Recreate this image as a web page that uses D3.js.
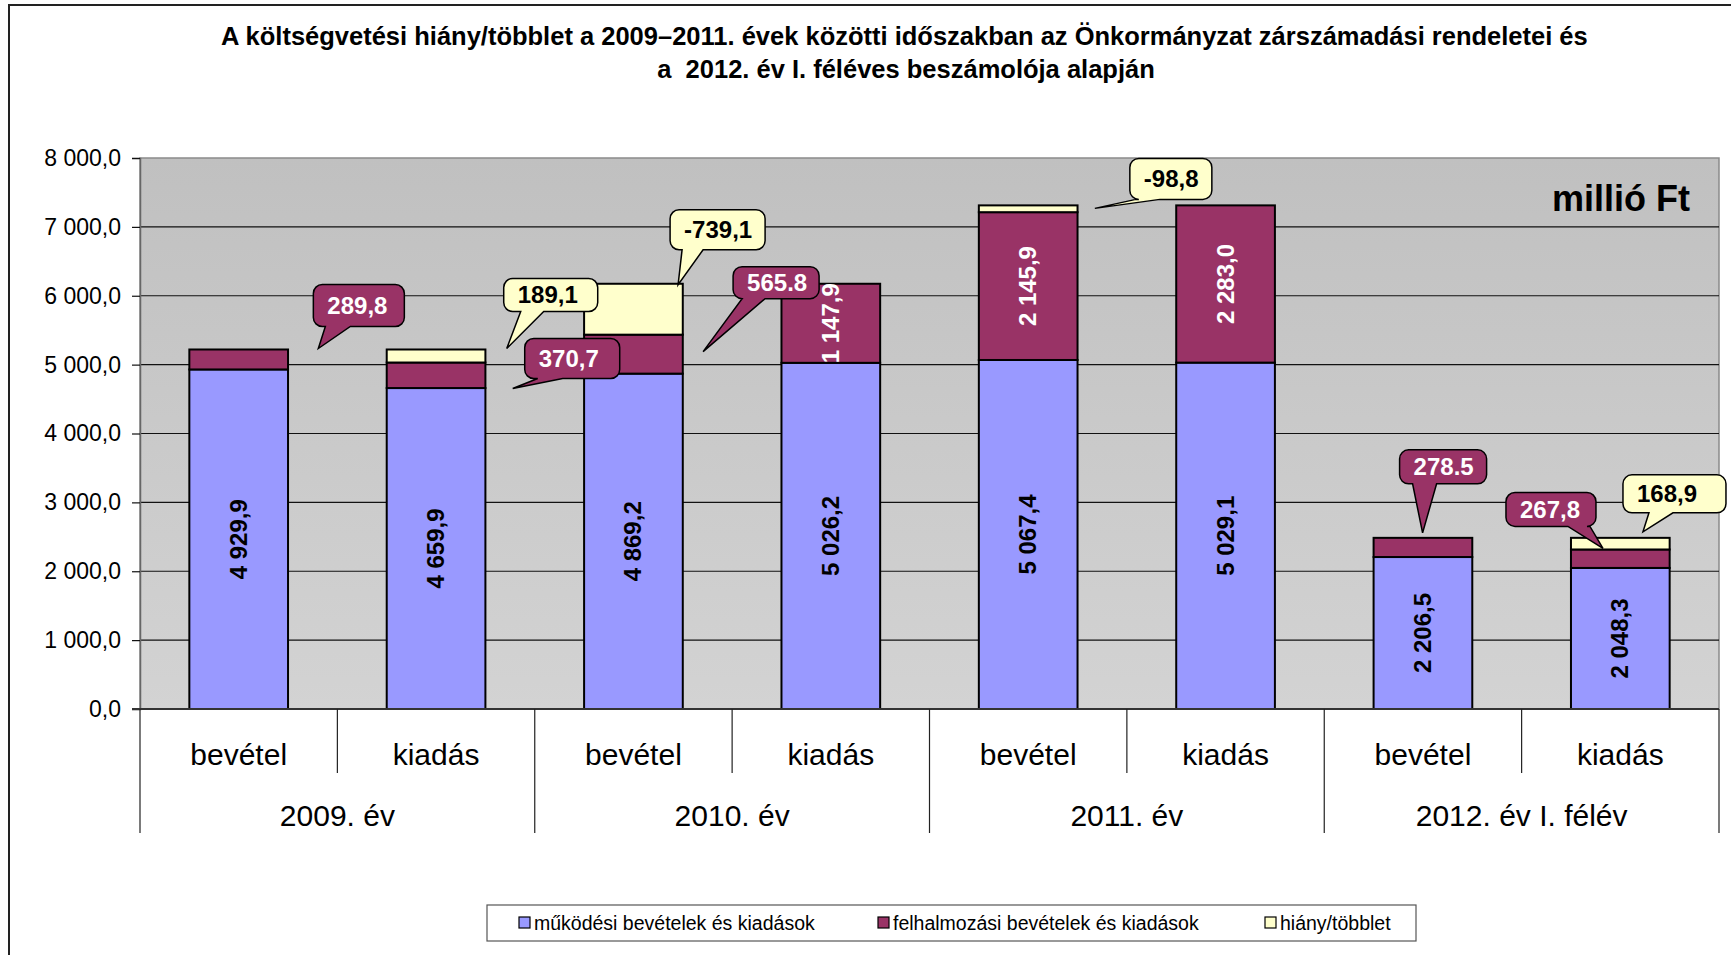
<!DOCTYPE html>
<html>
<head>
<meta charset="utf-8">
<script src="https://cdn.jsdelivr.net/npm/d3@7"></script>
<style>
  html, body { margin: 0; padding: 0; background: #fff; }
  svg { display: block; font-family: "Liberation Sans", Arial, sans-serif; }
</style>
</head>
<body>
<svg id="chart" width="1731" height="955"></svg>
<script>
"use strict";

// data (millió Ft)
var subCats = ['bevétel','kiadás','bevétel','kiadás','bevétel','kiadás','bevétel','kiadás'];
var years = ['2009. év','2010. év','2011. év','2012. év I. félév'];
var mukodesi = [4929.9, 4659.9, 4869.2, 5026.2, 5067.4, 5029.1, 2206.5, 2048.3];
var felhalmozasi = [289.8, 370.7, 565.8, 1147.9, 2145.9, 2283.0, 278.5, 267.8];
var hiany = [0, 189.1, 739.1, 0, 98.8, 0, 0, 168.9];
var yTicks = [0, 1000, 2000, 3000, 4000, 5000, 6000, 7000, 8000];
var seriesNames = ['működési bevételek és kiadások','felhalmozási bevételek és kiadások','hiány/többlet'];
// which maroon segments carry their value inside the bar
var felhInside = [false, false, false, true, true, true, false, false];
// callout bubbles: bar index, series, text as printed
var calloutBar = [0, 1, 1, 2, 2, 4, 6, 7, 7];
var calloutSeries = ['felh','hiany','felh','hiany','felh','hiany','felh','felh','hiany'];
var calloutText = ['289,8','189,1','370,7','-739,1','565.8','-98,8','278.5','267,8','168,9'];

var title1 = 'A költségvetési hiány/többlet a 2009–2011. évek közötti időszakban az Önkormányzat zárszámadási rendeletei és';
var title2 = 'a  2012. év I. féléves beszámolója alapján';

var colors = { muk: '#9999ff', felh: '#993366', hiany: '#ffffcc' };

// callout placement: tip x from bar left, tip y offset from segment top,
// box offset from the tip, box size, tail base along the bottom edge
var calloutLayout = [
  { tx: 129, ty: -1, bx: -5,  by: -64, w: 91,  h: 42, b1: 12, b2: 37 },
  { tx: 120, ty: -1, bx: -3,  by: -70, w: 94,  h: 33, b1: 17, b2: 40 },
  { tx: 126, ty: 26, bx: 12,  by: -50, w: 95,  h: 40, b1: 13, b2: 38 },
  { tx: 94,  ty: 1,  bx: -8,  by: -75, w: 95,  h: 40, b1: 12, b2: 33 },
  { tx: 119, ty: 17, bx: 30,  by: -85, w: 86,  h: 32, b1: 9,  b2: 32 },
  { tx: 116, ty: 3,  bx: 35,  by: -50, w: 82,  h: 41, b1: 6,  b2: 30 },
  { tx: 49,  ty: -5, bx: -23, by: -83, w: 87,  h: 34, b1: 13, b2: 37 },
  { tx: 32,  ty: -1, bx: -97, by: -56, w: 90,  h: 34, b1: 62, b2: 84 },
  { tx: 72,  ty: -6, bx: -20, by: -57, w: 103, h: 38, b1: 26, b2: 50 }
];

var svg = d3.select('#chart');

var plot = { left: 140, right: 1719, top: 158, bottom: 709 };

var fmtLocale = d3.formatLocale({ decimal: ',', thousands: '\u00a0', grouping: [3], currency: ['', ''] });
var fmt = fmtLocale.format(',.1f');

var rows = mukodesi.map(function(d, i){
  return { i: i, muk: d, felh: felhalmozasi[i], hiany: hiany[i] };
});

var x = d3.scaleBand()
  .domain(d3.range(subCats.length))
  .range([plot.left, plot.right])
  .paddingInner(0.5)
  .paddingOuter(0.25);

var y = d3.scaleLinear()
  .domain([0, 8000])
  .range([plot.bottom, plot.top]);

var stack = d3.stack().keys(['muk','felh','hiany']);
var stacked = stack(rows);

// outer frame
svg.append('path')
  .attr('d', 'M9,960 V5 H1740')
  .attr('fill', 'none')
  .attr('stroke', '#222')
  .attr('stroke-width', 2);

// title, first line is cut off on the right like in the original
var defs = svg.append('defs');
defs.append('clipPath').attr('id', 'titleClip')
  .append('rect').attr('x', 0).attr('y', 0).attr('width', 1587).attr('height', 100);

var grad = defs.append('linearGradient')
  .attr('id', 'plotGrad')
  .attr('x1', 0).attr('y1', 0).attr('x2', 0).attr('y2', 1);
grad.append('stop').attr('offset', '0%').attr('stop-color', '#c0c0c0');
grad.append('stop').attr('offset', '100%').attr('stop-color', '#d3d3d3');

svg.append('text')
  .attr('clip-path', 'url(#titleClip)')
  .attr('x', 221).attr('y', 45)
  .attr('text-anchor', 'start')
  .style('font-size', '25.5px').style('font-weight', 'bold')
  .text(title1);

svg.append('text')
  .attr('x', 906).attr('y', 78)
  .attr('text-anchor', 'middle')
  .style('font-size', '25.5px').style('font-weight', 'bold')
  .style('white-space', 'pre')
  .attr('xml:space', 'preserve')
  .text(title2);

// plot background
svg.append('rect')
  .attr('x', plot.left).attr('y', plot.top)
  .attr('width', plot.right - plot.left)
  .attr('height', plot.bottom - plot.top)
  .attr('fill', 'url(#plotGrad)')
  .attr('stroke', '#8a8a8a')
  .attr('stroke-width', 1.5);

// grid
svg.append('g').selectAll('line')
  .data(yTicks.filter(function(t){ return t > 0 && t < 8000; }))
  .enter().append('line')
    .attr('x1', plot.left).attr('x2', plot.right)
    .attr('y1', function(d){ return y(d); })
    .attr('y2', function(d){ return y(d); })
    .attr('stroke', '#111')
    .attr('stroke-width', 1.2);

// y axis
var yAxis = d3.axisLeft(y)
  .tickValues(yTicks)
  .tickSize(8)
  .tickPadding(11)
  .tickFormat(fmt);

var yg = svg.append('g')
  .attr('transform', 'translate(' + plot.left + ',0)')
  .call(yAxis);
yg.select('.domain').attr('stroke', '#666').attr('stroke-width', 1.5);
yg.selectAll('.tick line').attr('stroke', '#111').attr('stroke-width', 1.2);
yg.selectAll('.tick text')
  .style('font-size', '23px')
  .style('font-family', '"Liberation Sans", Arial, sans-serif')
  .attr('fill', '#000');

// "millió Ft"
svg.append('text')
  .attr('x', 1690).attr('y', 211)
  .attr('text-anchor', 'end')
  .style('font-size', '36px').style('font-weight', 'bold')
  .text('millió Ft');

// bars
var fills = [colors.muk, colors.felh, colors.hiany];
var layers = svg.append('g').selectAll('g.layer')
  .data(stacked)
  .enter().append('g')
    .attr('class', 'layer')
    .attr('fill', function(d, i){ return fills[i]; });

layers.selectAll('rect')
  .data(function(d){ return d.filter(function(s){ return s[1] - s[0] > 0; }); })
  .enter().append('rect')
    .attr('x', function(d){ return x(d.data.i); })
    .attr('width', x.bandwidth())
    .attr('y', function(d){ return y(d[1]); })
    .attr('height', function(d){ return y(d[0]) - y(d[1]); })
    .attr('stroke', '#000')
    .attr('stroke-width', 2);

// x axis line at zero
svg.append('line')
  .attr('x1', plot.left - 8).attr('x2', plot.right)
  .attr('y1', y(0)).attr('y2', y(0))
  .attr('stroke', '#333').attr('stroke-width', 2);

// labels inside the bars
var inside = svg.append('g');
stacked[0].forEach(function(s){
  var cx = x(s.data.i) + x.bandwidth() / 2;
  var cy = (y(s[0]) + y(s[1])) / 2;
  inside.append('text')
    .attr('transform', 'translate(' + (cx + 8) + ',' + cy + ') rotate(-90)')
    .attr('text-anchor', 'middle')
    .style('font-size', '24px').style('font-weight', 'bold')
    .attr('fill', '#000')
    .text(fmt(s.data.muk));
});
stacked[1].forEach(function(s){
  if (!felhInside[s.data.i]) return;
  var cx = x(s.data.i) + x.bandwidth() / 2;
  var cy = (y(s[0]) + y(s[1])) / 2;
  inside.append('text')
    .attr('transform', 'translate(' + (cx + 8) + ',' + cy + ') rotate(-90)')
    .attr('text-anchor', 'middle')
    .style('font-size', '24px').style('font-weight', 'bold')
    .attr('fill', '#fff')
    .text(fmt(s.data.felh));
});

// category axis: separators and labels
var step = x.step();
var x0 = x.range()[0];
svg.append('g').selectAll('line')
  .data(d3.range(subCats.length + 1))
  .enter().append('line')
    .attr('x1', function(d){ return x0 + d * step; })
    .attr('x2', function(d){ return x0 + d * step; })
    .attr('y1', y(0))
    .attr('y2', function(d){ return d % 2 === 0 ? 833 : 773; })
    .attr('stroke', '#222')
    .attr('stroke-width', 1.2);

svg.append('g').selectAll('text')
  .data(subCats)
  .enter().append('text')
    .attr('x', function(d, i){ return x(i) + x.bandwidth() / 2; })
    .attr('y', 765)
    .attr('text-anchor', 'middle')
    .style('font-size', '30px')
    .text(function(d){ return d; });

svg.append('g').selectAll('text')
  .data(years)
  .enter().append('text')
    .attr('x', function(d, i){ return x0 + (2 * i + 1) * step; })
    .attr('y', 826)
    .attr('text-anchor', 'middle')
    .style('font-size', '30px')
    .text(function(d){ return d; });

// callouts
function bubblePath(bx, by, w, h, r, b1, b2, tx, ty){
  return 'M' + (bx + r) + ',' + by +
    'H' + (bx + w - r) +
    'A' + r + ',' + r + ' 0 0 1 ' + (bx + w) + ',' + (by + r) +
    'V' + (by + h - r) +
    'A' + r + ',' + r + ' 0 0 1 ' + (bx + w - r) + ',' + (by + h) +
    'H' + (bx + b2) +
    'L' + tx + ',' + ty +
    'L' + (bx + b1) + ',' + (by + h) +
    'H' + (bx + r) +
    'A' + r + ',' + r + ' 0 0 1 ' + bx + ',' + (by + h - r) +
    'V' + (by + r) +
    'A' + r + ',' + r + ' 0 0 1 ' + (bx + r) + ',' + by + 'Z';
}

var seriesIndex = { muk: 0, felh: 1, hiany: 2 };
var bubbles = svg.append('g');
calloutText.forEach(function(t, k){
  var bar = calloutBar[k];
  var ser = calloutSeries[k];
  var seg = stacked[seriesIndex[ser]][bar];
  var L = calloutLayout[k];
  var tx = x(bar) + L.tx;
  var ty = y(seg[1]) + L.ty;
  var bx = tx + L.bx;
  var by = ty + L.by;
  bubbles.append('path')
    .attr('d', bubblePath(bx, by, L.w, L.h, 9, L.b1, L.b2, tx, ty))
    .attr('fill', colors[ser])
    .attr('stroke', '#000')
    .attr('stroke-width', 1.5);
  bubbles.append('text')
    .attr('x', bx + 14)
    .attr('y', by + L.h / 2 + 8.5)
    .style('font-size', '24px').style('font-weight', 'bold')
    .attr('fill', ser === 'felh' ? '#fff' : '#000')
    .text(t);
});

// legend
var legend = svg.append('g');
legend.append('rect')
  .attr('x', 487).attr('y', 905)
  .attr('width', 929).attr('height', 36)
  .attr('fill', '#fff')
  .attr('stroke', '#555')
  .attr('stroke-width', 1.2);
var legX = [519, 878, 1265];
seriesNames.forEach(function(name, i){
  legend.append('rect')
    .attr('x', legX[i]).attr('y', 917)
    .attr('width', 11).attr('height', 11)
    .attr('fill', fills[i])
    .attr('stroke', '#000')
    .attr('stroke-width', 1.2);
  legend.append('text')
    .attr('x', legX[i] + 15).attr('y', 929.5)
    .style('font-size', '19.5px')
    .text(name);
});
</script>
</body>
</html>
